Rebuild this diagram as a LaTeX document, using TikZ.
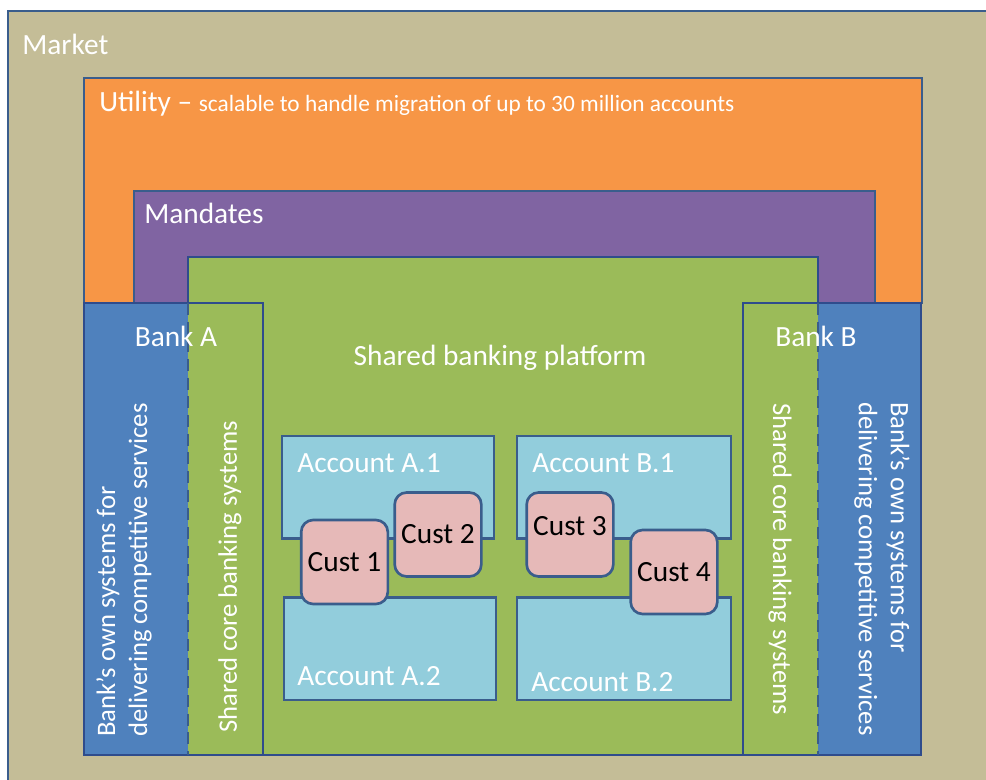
\documentclass[tikz,border=0pt]{standalone}
\usepackage{fontspec}
\setmainfont{Carlito}
\usetikzlibrary{positioning}

\definecolor{markettan}{HTML}{C4BD97}
\definecolor{utilorange}{HTML}{F79646}
\definecolor{mandpurple}{HTML}{8064A2}
\definecolor{platgreen}{HTML}{9BBB59}
\definecolor{bankblue}{HTML}{4F81BD}
\definecolor{acctblue}{HTML}{92CDDC}
\definecolor{custpink}{HTML}{E6B9B8}
\definecolor{edgeblue}{HTML}{3A5D8C}
\definecolor{banknavy}{HTML}{2F4C8C}

\begin{document}
\begin{tikzpicture}[x=0.75pt,y=-0.75pt,
	panel/.style={draw=edgeblue, line width=2pt},
	bankpanel/.style={draw=banknavy, line width=2pt},
	title/.style={text=white, inner sep=0pt, font=\fontsize{22}{24}\selectfont},
	sidetext/.style={text=white, inner sep=0pt, font=\fontsize{20}{24}\selectfont},
	account/.style={draw=edgeblue, fill=acctblue, line width=2pt, minimum width=159pt, minimum height=77pt, inner sep=0pt},
	cust/.style={draw=edgeblue, fill=custpink, line width=2pt, rounded corners=9pt, minimum width=65pt, minimum height=63pt, inner sep=0pt, font=\fontsize{22}{24}\selectfont}]

		\clip (0,0) rectangle (986,780);

		\filldraw[panel, fill=markettan] (8,11) rectangle (1010,800);
		\filldraw[panel, fill=utilorange] (84,78) rectangle (922,303);
		\filldraw[panel, fill=mandpurple] (134,191) rectangle (875,303);
		\filldraw[bankpanel, fill=platgreen] (188,257) rectangle (818,755);

		\fill[bankblue] (84,303) rectangle (188,755);
		\fill[platgreen] (188,303) rectangle (263,755);
		\draw[bankpanel] (84,303) rectangle (263,755);
		\draw[panel, dash pattern=on 9pt off 5pt] (188,303) -- (188,755);

		\fill[platgreen] (743,303) rectangle (818,755);
		\fill[bankblue] (818,303) rectangle (921,755);
		\draw[bankpanel] (743,303) rectangle (921,755);
		\draw[panel, dash pattern=on 9pt off 5pt] (818,303) -- (818,755);

		\node (market) [title, anchor=base west] at (22,55) {Market};
		\node (utility) [title, anchor=base west] at (99,112) {Utility – {\fontsize{17.5}{20}\selectfont scalable to handle migration of up to 30 million accounts}};
		\node (mandates) [title, anchor=base west] at (144,224) {Mandates};
		\node (banka) [title, anchor=base] at (176,347) {Bank A};
		\node (bankb) [title, anchor=base] at (816,347) {Bank B};
		\node (platform) [title, anchor=base] at (500,366) {Shared banking platform};

		\node (owna) [sidetext, rotate=90, anchor=west, align=left] at (124,737) {Bank’s own systems for\\delivering competitive services};
		\node (corea) [sidetext, rotate=90, anchor=west] at (230,733) {Shared core banking systems};
		\node (ownb) [sidetext, rotate=-90, anchor=west, align=left] at (882,402) {Bank’s own systems for\\delivering competitive services};
		\node (coreb) [sidetext, rotate=-90, anchor=west] at (780,403) {Shared core banking systems};

		\node (acca1) [account] at (388,487.5) {};
		\node (acca2) [account] at (390,648.5) {};
		\node (accb1) [account, minimum width=160.5pt] at (624,487.5) {};
		\node (accb2) [account, minimum width=160.5pt] at (624,648.5) {};
		\node (acca1lbl) [title, anchor=base west] at (297,473) {Account A.1};
		\node (acca2lbl) [title, anchor=base west] at (297,685) {Account A.2};
		\node (accb1lbl) [title, anchor=base west] at (532,473) {Account B.1};
		\node (accb2lbl) [title, anchor=base west] at (531,691) {Account B.2};

		\node (cust1) [cust] at (344.5,562) {Cust 1};
		\node (cust2) [cust] at (438,534.5) {Cust 2};
		\node (cust3) [cust] at (570,534.5) {};
		\node (cust4) [cust] at (674,572) {Cust 4};
		\node (cust3lbl) [font=\fontsize{22}{24}\selectfont, inner sep=0pt] at ([yshift=6pt]cust3.center) {Cust 3};

\end{tikzpicture}
\end{document}
